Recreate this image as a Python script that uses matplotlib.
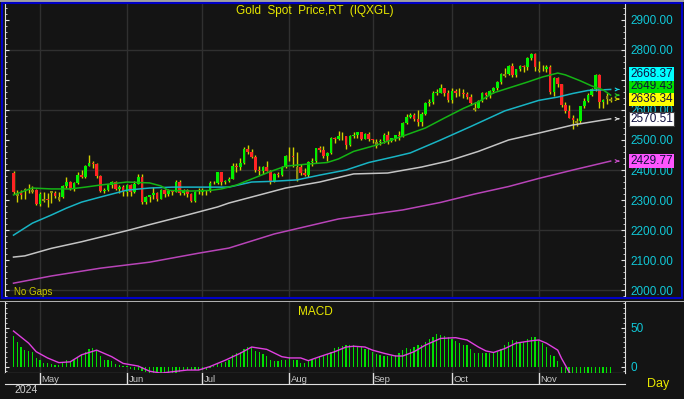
import numpy as np
import pandas as pd
import matplotlib
matplotlib.use('Agg')
import matplotlib.pyplot as plt
import matplotlib.transforms as mtrans
from matplotlib.patches import Rectangle, FancyArrowPatch
from matplotlib.ticker import MultipleLocator, FuncFormatter

plt.rcParams['font.family'] = ['Liberation Sans', 'DejaVu Sans']

# ---- data ----
dates = pd.bdate_range('2024-04-22', '2024-11-28')

opens = [2391, 2312, 2322, 2338, 2332, 2328, 2335, 2286, 2296, 2303,
         2330, 2323, 2300, 2309, 2346, 2360, 2336, 2358, 2385, 2376,
         2415, 2425, 2421, 2379, 2329, 2334, 2351, 2361, 2338, 2343,
         2327, 2350, 2327, 2355, 2376, 2294, 2311, 2316, 2324, 2303,
         2333, 2319, 2329, 2328, 2360, 2322, 2334, 2319, 2298, 2327,
         2326, 2332, 2330, 2356, 2356, 2392, 2359, 2364, 2371, 2415,
         2411, 2422, 2469, 2459, 2445, 2400, 2396, 2409, 2398, 2364,
         2387, 2384, 2410, 2447, 2446, 2370, 2409, 2390, 2382, 2427,
         2431, 2472, 2465, 2447, 2456, 2507, 2504, 2514, 2512, 2484,
         2512, 2518, 2525, 2504, 2521, 2503, 2480, 2493, 2495, 2516,
         2497, 2506, 2516, 2512, 2558, 2578, 2582, 2569, 2559, 2587,
         2622, 2628, 2657, 2657, 2672, 2658, 2634, 2663, 2658, 2656,
         2654, 2644, 2600, 2608, 2630, 2657, 2649, 2662, 2674, 2693,
         2712, 2720, 2748, 2715, 2736, 2747, 2743, 2774, 2788, 2730,
         2736, 2736, 2743, 2659, 2706, 2685, 2618, 2598, 2573, 2558,
         2563, 2612, 2631, 2650, 2670, 2716, 2626, 2645, 2630]
highs = [2396, 2334, 2335, 2339, 2353, 2346, 2337, 2326, 2327, 2323,
         2331, 2331, 2326, 2351, 2378, 2362, 2360, 2392, 2400, 2416,
         2450, 2431, 2423, 2384, 2339, 2353, 2364, 2362, 2351, 2350,
         2354, 2352, 2364, 2387, 2388, 2314, 2318, 2342, 2326, 2336,
         2336, 2336, 2332, 2366, 2368, 2336, 2336, 2323, 2330, 2339,
         2339, 2335, 2364, 2363, 2392, 2393, 2368, 2376, 2424, 2424,
         2440, 2475, 2483, 2471, 2450, 2412, 2414, 2431, 2400, 2390,
         2393, 2413, 2451, 2477, 2477, 2461, 2420, 2407, 2431, 2440,
         2474, 2479, 2480, 2461, 2509, 2509, 2531, 2526, 2514, 2517,
         2527, 2528, 2527, 2524, 2525, 2504, 2503, 2503, 2524, 2529,
         2507, 2517, 2529, 2560, 2586, 2590, 2589, 2600, 2593, 2625,
         2635, 2664, 2670, 2685, 2674, 2665, 2673, 2670, 2672, 2670,
         2661, 2652, 2626, 2634, 2661, 2660, 2667, 2678, 2697, 2723,
         2740, 2749, 2758, 2737, 2750, 2750, 2775, 2790, 2790, 2763,
         2749, 2750, 2749, 2710, 2709, 2686, 2626, 2618, 2583, 2573,
         2614, 2639, 2656, 2674, 2721, 2720, 2637, 2658, 2643]
lows = [2320, 2292, 2305, 2305, 2325, 2322, 2285, 2280, 2293, 2277,
        2291, 2308, 2298, 2306, 2341, 2334, 2331, 2352, 2372, 2375,
        2412, 2406, 2373, 2326, 2325, 2330, 2340, 2334, 2323, 2314,
        2314, 2315, 2325, 2352, 2286, 2287, 2292, 2305, 2296, 2302,
        2310, 2312, 2318, 2326, 2316, 2316, 2310, 2293, 2295, 2319,
        2318, 2318, 2327, 2352, 2353, 2350, 2352, 2360, 2370, 2392,
        2400, 2420, 2455, 2441, 2394, 2384, 2386, 2397, 2353, 2360,
        2376, 2380, 2406, 2429, 2410, 2364, 2384, 2380, 2378, 2414,
        2425, 2460, 2440, 2430, 2455, 2490, 2499, 2500, 2470, 2481,
        2505, 2506, 2500, 2502, 2495, 2490, 2472, 2484, 2490, 2485,
        2494, 2496, 2500, 2510, 2553, 2572, 2562, 2546, 2547, 2584,
        2613, 2621, 2650, 2655, 2645, 2625, 2624, 2643, 2645, 2641,
        2635, 2616, 2598, 2605, 2625, 2637, 2640, 2656, 2665, 2688,
        2710, 2716, 2709, 2710, 2729, 2728, 2734, 2766, 2730, 2728,
        2729, 2728, 2652, 2645, 2678, 2610, 2589, 2572, 2537, 2547,
        2557, 2607, 2625, 2646, 2664, 2605, 2605, 2621, 2627]
closes = [2327, 2322, 2316, 2332, 2337, 2335, 2286, 2320, 2303, 2301,
          2323, 2314, 2309, 2346, 2360, 2336, 2358, 2385, 2376, 2415,
          2425, 2421, 2379, 2329, 2334, 2351, 2361, 2338, 2343, 2327,
          2350, 2327, 2355, 2376, 2294, 2311, 2316, 2324, 2303, 2333,
          2319, 2329, 2328, 2360, 2322, 2334, 2319, 2298, 2327, 2326,
          2332, 2330, 2356, 2356, 2392, 2359, 2364, 2371, 2415, 2411,
          2422, 2469, 2459, 2445, 2400, 2396, 2409, 2398, 2364, 2387,
          2384, 2410, 2447, 2446, 2443, 2409, 2390, 2382, 2427, 2431,
          2472, 2465, 2447, 2456, 2507, 2504, 2514, 2512, 2484, 2512,
          2518, 2525, 2504, 2521, 2503, 2500, 2493, 2495, 2516, 2497,
          2506, 2516, 2512, 2558, 2578, 2582, 2569, 2559, 2587, 2622,
          2628, 2657, 2657, 2672, 2658, 2634, 2663, 2658, 2656, 2654,
          2644, 2622, 2608, 2630, 2657, 2649, 2662, 2674, 2693, 2721,
          2720, 2748, 2715, 2736, 2747, 2743, 2774, 2788, 2744, 2736,
          2736, 2743, 2659, 2706, 2685, 2618, 2598, 2573, 2565, 2563,
          2612, 2631, 2650, 2670, 2716, 2626, 2633, 2637, 2636.34]

# moving averages, sampled along the lines (day index, value)
ma20_day = [0, 5, 10, 15, 19, 23, 30, 36, 39, 41, 47, 52, 55, 59, 63, 68, 72,
            78, 83, 86, 90, 96, 103, 109, 114, 119, 123, 127, 131, 136, 140,
            144, 146, 150, 153, 156, 158]
ma20_val = [2317, 2340, 2337, 2337, 2343, 2350, 2360, 2357, 2347, 2332, 2330,
            2332, 2337, 2350, 2370, 2395, 2413, 2420, 2425, 2437, 2462, 2483,
            2513, 2540, 2573, 2605, 2627, 2657, 2673, 2693, 2710, 2723, 2717,
            2697, 2680, 2667, 2649.43]
ma50_day = [0, 5, 10, 14, 18, 23, 27, 30, 36, 42, 49, 57, 63, 68, 75, 81, 88,
            94, 101, 105, 113, 121, 130, 139, 144, 148, 152, 158]
ma50_val = [2183, 2223, 2250, 2273, 2293, 2310, 2323, 2333, 2340, 2343, 2343,
            2343, 2360, 2362, 2367, 2383, 2400, 2425, 2445, 2457, 2500, 2545,
            2597, 2632, 2643, 2655, 2665, 2668.37]
ma100_day = [0, 3, 10, 18, 30, 36, 45, 54, 57, 63, 72, 81, 90, 99, 108, 115,
             123, 131, 139, 148, 158]
ma100_val = [2110, 2114, 2139, 2161, 2198, 2218, 2247, 2277, 2290, 2310, 2340,
             2360, 2387, 2390, 2410, 2430, 2462, 2500, 2523, 2550, 2570.51]
ma200_day = [0, 10, 23, 36, 49, 57, 69, 86, 103, 113, 122, 131, 139, 148, 158]
ma200_val = [2023, 2047, 2073, 2093, 2123, 2140, 2187, 2237, 2267, 2292, 2320,
             2345, 2372, 2400, 2429.77]

macd_hist = [39.5, 32, 25, 21, 20, 18, 11, 8, 5, 4, 3, 2, 2.5, 5, 8, 7.5, 9,
             12, 15, 19, 22, 24, 21, 14, 9, 8, 7, 3.5, 2, 1, 1, -3, -4, -5,
             -6, -7, -8, -9, -10, -10, -10, -10, -9, -8, -7, -6, -5, -5, -5,
             -5, -5, -4, -2, 1, 3, 5, 6, 9, 15, 17, 18.5, 22, 25, 25, 20, 18.5,
             16, 14, 8, 7, 7, 9, 9, 12.6, 8, 8, 5, 5, 7, 10, 10, 13, 13, 16,
             19, 24, 25, 26, 27, 27, 27, 26, 25, 23, 23, 19, 16, 15, 14, 13,
             13, 15, 17, 21, 24, 23, 25, 27, 27, 32, 35, 38, 42, 41, 38.5, 38,
             35.5, 33, 30, 28, 27, 23, 17, 17, 17, 17, 17, 18, 18, 23, 27, 32,
             33.5, 33, 32, 32, 35, 38, 38, 33.5, 29.7, 25, 15, 13, 6.7, -10,
             -15, -22, -28, -32, -33, -30, -26, -22, -18, -14, -14, -13, -13]
sig_day = [0, 4, 6, 9, 12, 15, 18, 22, 26, 29, 33, 36, 39, 42, 46, 49, 52, 56,
           60, 63, 67, 71, 73, 76, 78, 81, 85, 88, 90, 93, 95, 98, 101, 103,
           106, 109, 113, 117, 120, 123, 125, 127, 130, 133, 137, 139, 141,
           144, 145, 147, 149, 152]
sig_val = [45.5, 30, 19, 11, 5, 6, 15, 21, 12.6, 4, 0.6, -6, -8.5, -6.7, -4.5,
           -4.5, 0, 8, 17, 25, 22, 12.6, 11, 11, 7.5, 12.6, 19, 25, 26, 25, 21,
           17, 13.5, 13.5, 19, 27.5, 36, 37, 34, 25, 20, 18, 23, 30, 33, 34,
           30, 21, 10.5, -6.7, -25, -45]

# ---- layout helpers ----
W, H = 684, 399
BG = '#141414'
GRID = '#303030'
CYAN_TXT = '#10c8d8'


def box(x0, y0, x1, y1):
    return [x0 / W, 1 - y1 / H, (x1 - x0) / W, (y1 - y0) / H]


fig = plt.figure(figsize=(W / 100, H / 100), dpi=100, facecolor=BG)
xlim = (-2.25, 161.8)
n = len(closes)
idx = np.arange(n)
month_pos = [i for i in range(1, n) if dates[i].month != dates[i - 1].month]
month_lab = [dates[i].strftime('%b') for i in month_pos]

# ---- price panel ----
ax = fig.add_axes(box(5, 4, 625, 297))
ax.set_facecolor(BG)
ax.set_xlim(*xlim)
ax.set_ylim(1977, 2953)
for y in range(2000, 2900, 200):
    ax.axhline(y, color=GRID, lw=1, zorder=0)
for p in month_pos:
    ax.axvline(p, color=GRID, lw=1, zorder=0)

o, h, l, c = map(np.asarray, (opens, highs, lows, closes))
prev = np.r_[o[0], c[:-1]]
up = c >= o
agree = (c >= o) == (c >= prev)
body_col = np.where(~agree, '#8c8c14', np.where(up, '#00f000', '#ff2424'))
ax.vlines(idx, l, h, color='#d0d000', lw=1, zorder=2)
ax.bar(idx, np.maximum(np.abs(c - o), 1.5), bottom=np.minimum(o, c),
       width=0.7, color=body_col, lw=0, zorder=3)

ma_lines = [(ma200_day, ma200_val, '#b844b8'),
            (ma100_day, ma100_val, '#c4c4c4'),
            (ma50_day, ma50_val, '#18b4c4'),
            (ma20_day, ma20_val, '#14b414')]
for d, v, col in ma_lines:
    ax.plot(d, v, color=col, lw=1.1, zorder=4)

# last-value boxes on the right, stacked so they do not collide
last_marks = [(ma50_val[-1], '#18d8e8', '#00ffff'),
              (ma20_val[-1], '#20d020', '#00e000'),
              (closes[-1], '#d8d800', '#ffff00'),
              (ma100_val[-1], '#e0e0e0', '#ffffff'),
              (ma200_val[-1], '#d050d0', '#ff55ff')]
sep = 42
placed = []
for v, acol, fcol in sorted(last_marks, key=lambda t: t[0]):
    ypos = v
    if placed and ypos - placed[-1][0] < sep:
        ypos = placed[-1][0] + sep
    placed.append((ypos, v, fcol))


def covered(y):
    # an axis label hidden behind the boxes (as in the reference)
    lo, hi = y - 14, y + 14
    spans = [(p - sep / 2, p + sep / 2) for p, _, _ in placed]
    ok_lo = any(a <= lo <= b for a, b in spans)
    ok_hi = any(a <= hi <= b for a, b in spans)
    return ok_lo and ok_hi


for s in ['top', 'bottom']:
    ax.spines[s].set_visible(False)
for s in ['left', 'right']:
    ax.spines[s].set_color('#e0e0e0')
ax.set_xticks([])
ax.yaxis.set_major_locator(MultipleLocator(100))
ax.yaxis.set_minor_locator(MultipleLocator(20))
ax.yaxis.set_major_formatter(FuncFormatter(
    lambda y, pos: '' if covered(y) else f'{y:.2f}'))
ax.tick_params(axis='y', which='both', direction='in', left=True, right=True,
               labelleft=False, labelright=True, colors='#e0e0e0',
               labelcolor=CYAN_TXT, labelsize=8.5, pad=4)
ax.tick_params(axis='y', which='major', length=3)
ax.tick_params(axis='y', which='minor', length=1.5)

for v, acol, _ in last_marks:
    ax.add_patch(FancyArrowPatch((159.4, v), (161.0, v), arrowstyle='->',
                                 mutation_scale=5, color=acol, lw=0.8,
                                 zorder=6, clip_on=False))

tr = mtrans.blended_transform_factory(ax.transAxes, ax.transData)
for ypos, v, fcol in placed:
    ax.text(1 + 5 / 620, ypos, f'{v:.2f}', transform=tr, color='#101040',
            fontsize=8.5, ha='left', va='center', zorder=10, clip_on=False,
            bbox=dict(boxstyle='square,pad=0.08', fc=fcol,
                      ec='#404040' if fcol == '#ffffff' else 'none', lw=0.8))

fig.text(315 / W, 1 - 11 / H, 'Gold  Spot  Price,RT  (IQXGL)', color='#e8e800',
         fontsize=8.5, ha='center', va='center')
fig.text(14 / W, 1 - 292 / H, 'No Gaps', color='#c8c800', fontsize=7,
         ha='left', va='center')

# ---- MACD panel ----
ax2 = fig.add_axes(box(5, 302, 625, 373))
ax2.set_facecolor(BG)
ax2.set_xlim(*xlim)
ax2.set_ylim(-8.3, 82.7)
for p in month_pos:
    ax2.axvline(p, color=GRID, lw=1, zorder=0)
ax2.bar(idx, macd_hist, width=0.33, color='#00e000', lw=0, zorder=2)
ax2.plot(sig_day, sig_val, color='#e040e0', lw=1, zorder=3)
ax2.spines['top'].set_visible(False)
for s in ['left', 'right', 'bottom']:
    ax2.spines[s].set_color('#e0e0e0')
ax2.set_xticks([])
ax2.set_yticks([0, 50])
ax2.yaxis.set_minor_locator(MultipleLocator(6.25))
ax2.tick_params(axis='y', which='both', direction='in', left=True, right=True,
                labelleft=False, labelright=True, colors='#e0e0e0',
                labelcolor=CYAN_TXT, labelsize=8.5, pad=4)
ax2.tick_params(axis='y', which='major', length=3)
ax2.tick_params(axis='y', which='minor', length=1.5)
ax2.text(0.5, 0.86, 'MACD', transform=ax2.transAxes, color='#e8e800',
         fontsize=8.5, ha='center', va='center')

# ---- date strip ----
ax3 = fig.add_axes(box(5, 373, 625, 384))
ax3.set_facecolor(BG)
ax3.set_xlim(*xlim)
ax3.set_ylim(0, 1)
for s in ['top', 'left', 'right']:
    ax3.spines[s].set_visible(False)
ax3.spines['bottom'].set_color('#e0e0e0')
ax3.set_xticks([])
ax3.set_yticks([])
for p, lab in zip(month_pos, month_lab):
    ax3.axvline(p, color='#e0e0e0', lw=1)
    ax3.text(p + 0.4, 0.42, lab, color='#c8c8c8', fontsize=6.8, ha='left',
             va='center')

fig.text(14 / W, 1 - 390 / H, '2024', color='#d0d0d0', fontsize=7.5,
         ha='left', va='center')
fig.text(658 / W, 1 - 384 / H, 'Day', color='#e8e800', fontsize=9,
         ha='center', va='center')

# ---- frames ----
fig.add_artist(Rectangle((0, 1 - 1.5 / H), 1, 1.5 / H, transform=fig.transFigure,
                         fc='#a0a0a0', ec='none'))
fig.add_artist(Rectangle((2 / W, 1 - 298 / H), 680 / W, 295 / H,
                         transform=fig.transFigure, fill=False, ec='#0000c8',
                         lw=1.5))
fig.add_artist(Rectangle((0, 1 - 302 / H), 1, 1 / H, transform=fig.transFigure,
                         fc='#b0b0b0', ec='none'))

fig.savefig('out.png', dpi=100, facecolor=BG)
